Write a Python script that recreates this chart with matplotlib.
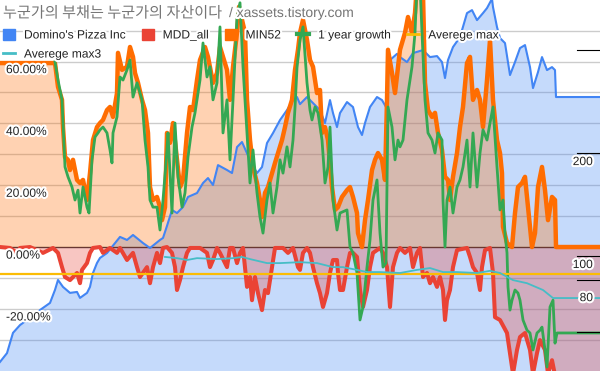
import matplotlib
matplotlib.use('Agg')
import matplotlib.pyplot as plt
import matplotlib.patheffects as pe
import matplotlib.transforms as mtransforms
from matplotlib.patches import Patch
from matplotlib.lines import Line2D

plt.rcParams['font.family'] = ['Liberation Sans', 'Noto Sans CJK KR', 'DejaVu Sans']

title_ko = '누군가의 부채는 누군가의 자산이다'
title_site = '/ xassets.tistory.com'

# Domino's Pizza Inc price (right axis, log scale), (week, price)
price_pts = [(0, 49.0), (7, 52.0), (10, 55.7), (13, 59.6), (20, 62.8), (27, 65.0), (33, 66.3),
             (40, 69.5), (50, 72.9), (55, 79.6), (58, 85.1), (63, 81.2), (70, 78.0), (77, 78.5),
             (80, 75.4), (87, 78.0), (90, 81.2), (93, 89.2), (97, 95.4), (100, 98.7), (107, 102.0),
             (120, 113.7), (127, 111.4), (133, 115.2), (143, 109.1), (150, 105.5), (160, 111.4),
             (163, 112.9), (167, 122.5), (172, 136.3), (177, 133.5), (183, 139.1), (188, 148.8),
             (197, 152.8), (203, 163.4), (208, 169.0), (213, 161.3), (218, 184.4), (227, 178.4),
             (232, 174.8), (237, 208.2), (242, 215.4), (250, 190.8), (257, 174.8), (262, 182.0),
             (267, 213.9), (273, 228.8), (280, 249.7), (287, 267.1), (293, 285.7), (297, 291.6),
             (300, 278.0), (307, 291.6), (313, 280.0), (320, 267.1), (325, 244.7), (330, 285.7),
             (333, 261.8), (337, 238.2), (340, 261.8), (347, 281.9), (353, 272.6), (358, 238.2),
             (362, 225.8), (365, 244.7), (370, 272.6), (377, 291.6), (382, 285.7), (386, 272.6),
             (388, 333.5), (390, 374.0), (397, 390.0), (400, 381.6), (407, 369.0), (413, 392.0),
             (423, 400.0), (430, 381.6), (437, 384.2), (442, 369.0), (445, 331.3), (448, 374.0),
             (453, 408.2), (460, 436.6), (467, 513.1), (472, 523.5), (477, 489.4), (483, 513.1),
             (487, 530.7), (492, 565.0), (493, 534.3), (497, 467.0), (500, 433.7), (505, 419.3),
             (510, 338.1), (515, 369.0), (520, 405.4), (525, 413.7), (530, 356.7), (533, 309.7),
             (538, 344.9), (542, 381.6), (547, 349.6), (552, 356.7), (555, 349.6), (556, 291.6),
             (600, 291.6)]

# MDD_all (%)
mdd_pts = [(0, 0.0), (10, -0.3), (17, -1.9), (20, -0.3), (30, 0.0), (43, -1.9), (53, -0.3),
           (58, -1.9), (62, -6.5), (65, -9.7), (70, -10.7), (77, -8.4), (80, -11.7), (82, -7.4),
           (87, -5.2), (90, -1.9), (93, -0.3), (100, 0.0), (103, -1.9), (110, -0.3), (117, -1.9),
           (120, -0.3), (127, -4.2), (133, -1.9), (137, -6.5), (140, -9.7), (147, -6.5),
           (150, -11.7), (153, -6.5), (157, -1.9), (160, -5.2), (163, -0.3), (167, 0.0),
           (172, -1.9), (175, -6.5), (177, -13.9), (180, -10.7), (183, -6.5), (187, -1.9),
           (190, -0.3), (200, -0.3), (207, -1.9), (210, -6.5), (213, -4.2), (217, -0.3),
           (220, -1.9), (227, -6.5), (230, -0.3), (233, -0.3), (237, -5.2), (240, -1.9),
           (243, -0.3), (245, -6.5), (247, -12.9), (250, -9.7), (252, -17.2), (255, -9.7),
           (258, -14.9), (262, -20.4), (265, -13.9), (268, -14.9), (272, -6.5), (275, -0.3),
           (283, -0.3), (288, -1.9), (293, -0.3), (298, -6.5), (300, -7.4), (303, -1.9),
           (307, -0.3), (310, -1.9), (313, -6.5), (317, -11.7), (320, -14.9), (323, -19.4),
           (327, -14.9), (330, -8.4), (333, -4.2), (337, -4.2), (338, -8.4), (340, -13.9),
           (343, -13.9), (347, -6.5), (350, -1.9), (353, -1.9), (357, -3.2), (360, -13.9),
           (363, -19.4), (367, -13.9), (370, -6.5), (373, -1.9), (380, -0.3), (383, -1.9),
           (387, -6.5), (390, -19.4), (393, -6.5), (397, -1.9), (400, -0.3), (405, -1.9),
           (410, -0.3), (413, -6.5), (417, -1.9), (420, -0.3), (423, -9.7), (427, -8.4),
           (430, -11.7), (433, -9.7), (437, -12.9), (440, -9.7), (443, -13.9), (445, -23.6),
           (447, -17.2), (450, -13.9), (453, -6.5), (457, -1.0), (467, -0.3), (470, -3.2),
           (473, -6.5), (477, -8.4), (480, -13.9), (482, -6.5), (485, -1.0), (490, -0.3),
           (493, -8.4), (495, -22.7), (500, -23.6), (507, -27.8), (513, -41.0), (517, -33.3),
           (520, -29.1), (525, -27.8), (530, -33.3), (533, -41.0), (537, -34.3), (540, -30.1),
           (545, -33.3), (548, -41.0), (552, -36.6), (555, -41.5), (556, -45.0), (600, -45.0)]

# MIN52 (%)
min52_pts = [(0, 59.5), (55, 59.5), (58, 51.8), (62, 47.6), (63, 38.8), (65, 29.1), (68, 28.2),
             (70, 24.9), (73, 28.2), (77, 21.7), (80, 20.7), (83, 21.7), (87, 15.2), (90, 23.9),
             (93, 34.6), (97, 38.8), (100, 40.1), (103, 41.1), (107, 44.3), (110, 45.3), (113, 42.1),
             (117, 49.8), (118, 62.8), (122, 57.3), (127, 58.3), (130, 64.7), (133, 61.5),
             (135, 56.3), (138, 53.1), (142, 47.6), (145, 44.3), (148, 36.9), (150, 19.4),
             (153, 15.2), (157, 16.2), (160, 12.9), (162, 8.7), (165, 12.9), (167, 36.9),
             (170, 33.7), (173, 40.1), (177, 28.2), (180, 19.4), (183, 21.7), (187, 36.9),
             (190, 45.3), (193, 44.3), (197, 54.0), (200, 60.5), (205, 64.7), (208, 61.5),
             (213, 53.1), (217, 56.3), (220, 64.7), (223, 61.5), (227, 57.3), (230, 47.6),
             (233, 58.3), (237, 69.3), (239, 77.7), (242, 73.5), (245, 69.3), (247, 47.6),
             (250, 34.6), (253, 25.9), (257, 20.7), (260, 15.2), (262, 9.7), (265, 17.5),
             (268, 19.4), (272, 23.9), (275, 27.2), (278, 30.4), (282, 34.6), (285, 38.8),
             (288, 43.4), (292, 47.6), (295, 57.3), (298, 63.8), (300, 69.3), (303, 73.5),
             (307, 67.0), (310, 60.5), (313, 58.3), (317, 49.8), (320, 50.8), (322, 36.9),
             (325, 38.8), (328, 34.6), (332, 19.4), (335, 12.0), (338, 12.9), (342, 16.2),
             (347, 18.4), (350, 19.4), (353, 16.2), (357, 11.0), (358, 4.5), (362, 0.0),
             (365, 8.7), (368, 15.2), (372, 24.9), (375, 28.2), (378, 30.4), (382, 28.2),
             (385, 21.7), (387, 47.6), (388, 63.8), (392, 56.3), (395, 49.8), (398, 58.3),
             (400, 63.8), (405, 69.3), (408, 74.4), (412, 69.3), (415, 75.7), (417, 85.0),
             (420, 88.0), (423, 82.0), (425, 53.1), (428, 44.3), (432, 42.1), (435, 43.4),
             (438, 36.9), (442, 31.4), (445, 22.7), (448, 21.7), (450, 15.2), (453, 22.7),
             (457, 30.4), (460, 38.8), (463, 45.3), (467, 59.5), (470, 61.5), (473, 47.6),
             (477, 50.8), (480, 47.6), (483, 38.8), (487, 54.0), (490, 67.0), (493, 47.6),
             (497, 34.6), (500, 30.4), (502, 23.9), (503, 6.5), (507, 1.3), (512, 0.0),
             (515, 11.0), (518, 19.4), (522, 20.7), (525, 22.7), (528, 12.9), (532, 0.0),
             (535, 4.5), (538, 19.4), (542, 25.9), (545, 18.4), (548, 8.7), (552, 16.2),
             (555, 15.2), (556, 0.0), (600, 0.0)]

# 1 year growth (%)
growth_pts = [(55, 59.9), (58, 54.0), (62, 47.6), (65, 25.9), (68, 22.7), (72, 19.4), (75, 15.2),
              (78, 18.4), (80, 11.0), (83, 19.4), (87, 12.9), (89, 11.0), (92, 28.2), (95, 35.6),
              (98, 36.9), (100, 37.9), (103, 38.8), (107, 36.9), (110, 31.4), (112, 27.2),
              (113, 36.9), (117, 42.1), (120, 55.0), (123, 54.0), (127, 57.3), (130, 60.5),
              (133, 48.5), (137, 53.1), (142, 47.6), (145, 34.6), (148, 25.9), (150, 15.2),
              (153, 12.9), (157, 12.9), (160, 5.5), (163, 15.2), (167, 31.4), (168, 36.9),
              (172, 11.0), (175, 40.1), (178, 22.7), (182, 12.9), (185, 17.5), (188, 29.1),
              (192, 38.8), (195, 43.4), (200, 54.0), (203, 66.0), (207, 55.0), (210, 58.3),
              (213, 47.6), (217, 53.1), (220, 71.2), (223, 36.9), (227, 47.6), (230, 28.2),
              (233, 47.6), (237, 74.4), (240, 79.0), (243, 58.3), (247, 36.9), (250, 20.7),
              (253, 31.4), (257, 17.5), (260, 9.7), (263, 4.5), (267, 15.2), (270, 20.7),
              (273, 11.0), (277, 19.4), (280, 28.2), (283, 23.9), (287, 32.4), (290, 25.9),
              (293, 34.6), (295, 45.0), (297, 58.0), (300, 67.0), (303, 71.2), (307, 53.1),
              (310, 44.3), (312, 41.1), (315, 45.3), (318, 43.4), (322, 34.6), (325, 20.7),
              (328, 25.9), (330, 38.8), (333, 15.2), (337, 5.5), (340, 11.0), (347, 12.0),
              (350, 0.0), (353, -1.9), (357, -8.4), (360, -23.6), (363, -19.4), (367, -6.5),
              (370, 2.3), (373, 15.2), (377, 21.7), (380, 4.5), (383, -6.5), (386, -5.2),
              (388, 45.3), (392, 38.8), (395, 28.2), (398, 34.6), (400, 32.4), (403, 34.6),
              (407, 47.6), (412, 58.3), (415, 69.3), (417, 85.0), (420, 85.0), (422, 69.3),
              (425, 47.6), (428, 36.9), (432, 34.6), (435, 30.4), (438, 36.9), (442, 34.6),
              (443, 15.2), (445, 0.0), (447, 15.2), (450, 19.4), (453, 11.0), (457, 19.4),
              (460, 21.7), (463, 25.9), (467, 34.6), (470, 19.4), (473, 36.9), (477, 19.4),
              (480, 30.4), (483, 37.9), (487, 34.6), (490, 40.1), (493, 45.3), (497, 25.9),
              (500, 12.0), (503, 15.2), (505, 4.5), (507, -1.9), (508, -12.9), (510, -20.4),
              (512, -17.2), (515, -13.9), (518, -14.9), (520, -17.2), (523, -23.6), (527, -26.9),
              (530, -27.8), (533, -33.3), (537, -27.8), (540, -26.9), (542, -25.9), (545, -33.3),
              (547, -38.8), (550, -19.4), (553, -17.2), (555, -31.1), (557, -27.8), (600, -27.8)]

# Averege max (%), constant
avg_max = -8.7
# Averege max3 (%)
avg_max3_pts = [(165, -3.2), (177, -3.6), (187, -4.2), (197, -3.6), (217, -3.9), (233, -3.6),
                (242, -3.2), (250, -3.9), (267, -5.2), (280, -5.2), (300, -4.9), (317, -5.2),
                (333, -6.5), (343, -6.5), (357, -7.4), (367, -8.1), (380, -8.1), (400, -8.4),
                (417, -7.4), (430, -6.8), (443, -8.1), (457, -8.1), (477, -8.4), (490, -7.7),
                (500, -8.4), (513, -10.7), (527, -11.7), (543, -13.9), (553, -16.5), (556, -16.5),
                (600, -16.5)]

left_labels = [60, 40, 20, 0, -20]
right_labels = [200, 100, 80]
right_marks = [400, 200, 100, 85, 60]

BLUE = '#4285F4'
RED = '#EA4335'
ORANGE = '#FF6D01'
GREEN = '#34A853'
YELLOW = '#FBBC04'
TEAL = '#46BDC6'

halo = [pe.withStroke(linewidth=3, foreground='white')]


def split(pts):
    return [p[0] for p in pts], [p[1] for p in pts]


fig = plt.figure(figsize=(6, 3.71), dpi=100)
ax = fig.add_axes([0, 0, 1, 1])
ax2 = ax.twinx()
ax.set_zorder(ax2.get_zorder() + 1)
ax.patch.set_visible(False)

ax.set_xlim(0, 600)
ax.set_ylim(-40.1, 79.9)
ax2.set_yscale('log')
ax2.set_ylim(46.1, 560.4)

# gridlines under the price area
grid_trans = mtransforms.blended_transform_factory(ax2.transAxes, ax.transData)
for v in range(-30, 80, 10):
    if v != 0:
        ax2.plot([0, 1], [v, v], transform=grid_trans, color='#cccccc', lw=1, zorder=0)

# price area (right axis), line drawn above the other areas
px, py = split(price_pts)
ax2.fill_between(px, py, 1, color=BLUE, alpha=0.3, lw=0, zorder=1)

ax.axhline(0, color='#333333', lw=1, zorder=1)

mx, my = split(mdd_pts)
nx, ny = split(min52_pts)
gx, gy = split(growth_pts)
tx, ty = split(avg_max3_pts)

ax.fill_between(mx, my, 0, color=RED, alpha=0.3, lw=0, zorder=2)
ax.fill_between(nx, ny, 0, color=ORANGE, alpha=0.3, lw=0, zorder=2)
ax.plot(px, py, color=BLUE, lw=1.5, zorder=2.5, transform=ax2.transData)
ax.plot(mx, my, color=RED, lw=2.9, zorder=3, solid_joinstyle='round')
ax.plot(nx, ny, color=ORANGE, lw=3.2, zorder=4, solid_joinstyle='round')
ax.plot(gx, gy, color=GREEN, lw=2.0, zorder=5)
ax.axhline(avg_max, color=YELLOW, lw=1.6, zorder=6)
ax.plot(tx, ty, color=TEAL, lw=1.3, zorder=7)

ax.set_xlim(0, 600)
ax.set_ylim(-40.1, 79.9)
ax.set_xticks([])
ax.set_yticks([])
ax2.set_yticks([])
ax2.set_yticks([], minor=True)
for a in (ax, ax2):
    for s in a.spines.values():
        s.set_visible(False)

# left axis labels inside the chart
for v in left_labels:
    ax.annotate(f'{v:.2f}%', xy=(6 / 600, v), xycoords=('axes fraction', 'data'),
                xytext=(0, -6.2), textcoords='offset points', ha='left', va='center',
                fontsize=8.64, color='#222222', path_effects=halo, zorder=10)

# right axis marks and labels
rtrans = mtransforms.blended_transform_factory(ax.transAxes, ax2.transData)
for v in right_marks:
    ax.plot([577 / 600, 1], [v, v], transform=rtrans, color='black', lw=0.8, zorder=9)
for v in right_labels:
    ax.annotate(str(v), xy=(593 / 600, v), xycoords=rtrans,
                xytext=(0, -6.5), textcoords='offset points', ha='right', va='center',
                fontsize=8.64, color='#222222', path_effects=halo, zorder=10)

fig.text(3 / 600, 1 - 13 / 371, title_ko, ha='left', va='center', fontsize=10.9,
         family=['Noto Sans CJK KR', 'DejaVu Sans'], color='#757575', path_effects=halo)
fig.text(229 / 600, 1 - 13 / 371, title_site, ha='left', va='center', fontsize=10,
         color='#757575', path_effects=halo)

handles = [Patch(color=BLUE), Line2D([], [], color=TEAL, lw=2),
           Patch(color=RED), Patch(color=ORANGE),
           Line2D([], [], color=GREEN, lw=3), Line2D([], [], color=YELLOW, lw=2)]
labels = ["Domino's Pizza Inc", 'Averege max3', 'MDD_all', 'MIN52', '1 year growth', 'Averege max']
leg = ax.legend(handles, labels, loc='upper left', bbox_to_anchor=(3 / 600, 1 - 29 / 371),
                ncol=5, frameon=False, fontsize=8.64, borderpad=0, borderaxespad=0,
                handlelength=1.0, handleheight=1.0, handletextpad=0.75,
                columnspacing=1.33, labelspacing=0.55)
for t in leg.get_texts():
    t.set_color('#222222')
    t.set_path_effects(halo)
leg.set_zorder(20)

fig.savefig('out.png', dpi=100)
